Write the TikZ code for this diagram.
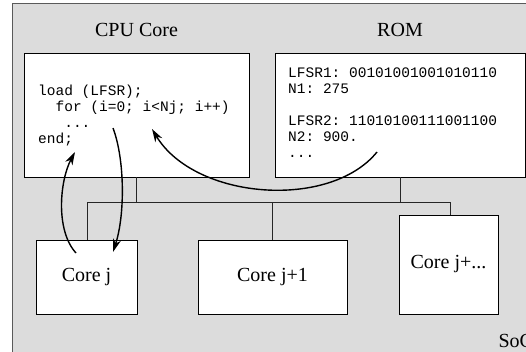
\documentclass[tikz,border=0pt]{standalone}
\usepackage{fontspec}
\setmainfont{Liberation Serif}
\setmonofont{Liberation Mono}
\usetikzlibrary{arrows.meta}

\definecolor{socgray}{HTML}{DCDCDC}
\definecolor{socedge}{HTML}{5A5A5A}

\tikzset{
	block/.style={draw=black, fill=white, line width=0.8pt, inner sep=0pt},
	title/.style={font=\fontsize{20}{24}\selectfont},
	code/.style={font=\fontsize{14.5}{16}\selectfont\ttfamily, align=left, anchor=north west, inner sep=0pt},
	bus/.style={draw=black!85, line width=0.8pt},
	flow/.style={line width=1.4pt, -{Stealth[length=13pt,width=8pt,inset=4pt]}},
}

\begin{document}
\begin{tikzpicture}[x=1pt, y=-1pt]
		% Fix the size of the picture
		\useasboundingbox (0,0) rectangle (526,351);
		
		% The SoC area, larger than the picture
		\draw[fill=socgray, draw=socedge, line width=1pt] (12,3) rectangle (560,380);
		\node[title, anchor=base west] (soc) at (495,347) {SoC};
		
		\begin{scope}
			% CPU core and its program
			\node[block, minimum width=225pt, minimum height=124pt] (cpu) at (136.5,115) {};
			\node[title] (cpulabel) at (136.5,30) {CPU Core};
			\node[code] (prog) at (38,84.5) {load (LFSR);\\
				\hphantom{xx}for (i=0; i<Nj; i++)\\
				\hphantom{xxx}...\\
				end;};
		\end{scope}
		
		\begin{scope}
			% ROM and its contents
			\node[block, minimum width=250pt, minimum height=124pt] (rom) at (400,115) {};
			\node[title] (romlabel) at (400,30) {ROM};
			\node[code] (data) at (288,67.5) {LFSR1: 00101001001010110\\
				N1: 275\\[16pt]
				LFSR2: 11010100111001100\\
				N2: 900.\\
				...};
		\end{scope}
		
		\begin{scope}
			% The cores
			\node[block, title, minimum width=101pt, minimum height=74pt] (corej) at (86.5,277) {Core j};
			\node[block, title, minimum width=149pt, minimum height=74pt] (corej1) at (272.5,277) {Core j+1};
			\node[block, title, minimum width=99pt, minimum height=99pt] (corejx) at (448.5,264.5) {Core j+...};
		\end{scope}
		
		% Bus between the blocks
		\coordinate (busL) at (87,202);
		\coordinate (busR) at (450,202);
		\draw[bus] (cpu.south) -- (cpu.south |- busL);
		\draw[bus] (rom.south) -- (rom.south |- busL);
		\draw[bus] (busL) -- (busR);
		\draw[bus] (busL) -- (busL |- corej.north);
		\draw[bus] (corej1.north) -- (corej1.north |- busL);
		\draw[bus] (busR) -- (busR |- corejx.north);
		
		% End points of the curved arrows
		\coordinate (romtail) at (377,152);
		\coordinate (looptip) at (152,129);
		\coordinate (endtip) at (75,152);
		\coordinate (coretail) at (76,253);
		\coordinate (dotstail) at (113,128);
		\coordinate (coretip) at (113,252);
		
		% Curved arrows
		\draw[flow] (romtail) .. controls (330,210) and (195,200) .. (looptip);
		\draw[flow] (coretail) .. controls (55,230) and (60,180) .. (endtip);
		\draw[flow] (dotstail) .. controls (125,160) and (125,215) .. (coretip);
	\end{tikzpicture}
\end{document}
